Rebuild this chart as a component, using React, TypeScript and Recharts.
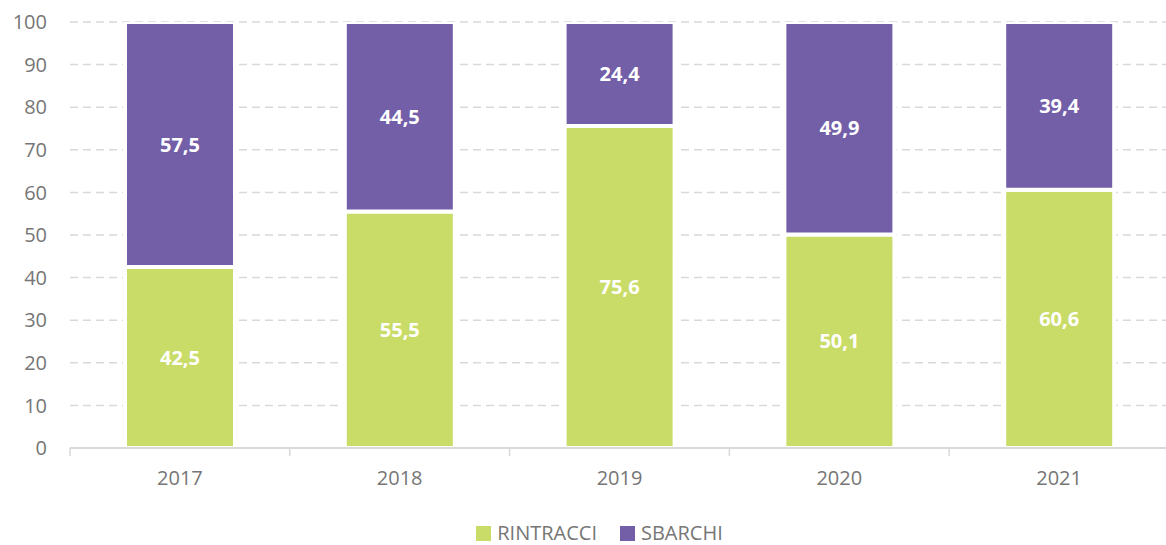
import React from 'react';
import { BarChart, Bar, XAxis, YAxis, CartesianGrid, LabelList, Legend, ReferenceLine } from 'recharts';

const years = ['2017', '2018', '2019', '2020', '2021'];
const rintracci = [42.5, 55.5, 75.6, 50.1, 60.6];
const sbarchi = [57.5, 44.5, 24.4, 49.9, 39.4];
const yTicks = [0, 10, 20, 30, 40, 50, 60, 70, 80, 90, 100];

const GREEN = '#C9DC67';
const PURPLE = '#735EA8';
const TEXT = '#767676';
const GRID = '#D9D9D9';

const data = years.map((y, i) => ({ year: y, RINTRACCI: rintracci[i], SBARCHI: sbarchi[i] }));

const fmt = (v: any) => String(v).replace('.', ',');

const LegendContent = () => (
  <div style={{ display: 'flex', justifyContent: 'center', paddingTop: 33, paddingLeft: 30, fontSize: 20, color: TEXT, fontFamily: 'Open Sans' }}>
    {[
      { name: 'RINTRACCI', color: GREEN },
      { name: 'SBARCHI', color: PURPLE },
    ].map((it, i) => (
      <div key={it.name} style={{ display: 'flex', alignItems: 'center', marginLeft: i ? 23 : 0 }}>
        <span style={{ display: 'inline-block', width: 15, height: 15, background: it.color, marginRight: 6 }} />
        <span style={{ lineHeight: '24px' }}>{it.name}</span>
      </div>
    ))}
  </div>
);

const TICK_DEPTH = -1.9;

export default function App() {
  return (
    <div style={{ position: 'absolute', left: 0, top: 0, width: 1166, height: 545, overflow: 'hidden', background: '#fff', fontFamily: 'Open Sans' }}>
      <BarChart width={1169} height={545} data={data} margin={{ top: 22, right: 0, bottom: 0, left: 0 }} barSize={110}>
        <CartesianGrid vertical={false} stroke={GRID} strokeDasharray="8 5" strokeWidth={1.5} />
        <XAxis
          dataKey="year"
          height={40}
          axisLine={{ stroke: GRID, strokeWidth: 2 }}
          tickLine={false}
          tickSize={0}
          tickMargin={23}
          tick={{ fill: TEXT, fontSize: 20 }}
        />
        <YAxis
          width={70}
          domain={[0, 100]}
          ticks={yTicks}
          axisLine={false}
          tickLine={false}
          tickSize={0}
          tickMargin={23}
          tick={{ fill: TEXT, fontSize: 20 }}
          allowDataOverflow
        />
        {years.map((y) => (
          <ReferenceLine
            key={'s' + y}
            segment={[{ x: y, y: 0 }, { x: y, y: TICK_DEPTH }]}
            position="start"
            ifOverflow="visible"
            stroke={GRID}
            strokeWidth={1.5}
          />
        ))}
        <ReferenceLine
          segment={[{ x: years[years.length - 1], y: 0 }, { x: years[years.length - 1], y: TICK_DEPTH }]}
          position="end"
          ifOverflow="visible"
          stroke={GRID}
          strokeWidth={1.5}
        />
        <Legend verticalAlign="bottom" height={57} content={<LegendContent />} />
        <Bar dataKey="RINTRACCI" stackId="a" fill={GREEN} stroke="#fff" strokeWidth={4} isAnimationActive={false}>
          <LabelList dataKey="RINTRACCI" position="center" fill="#fff" fontSize={20} fontWeight="bold" formatter={fmt} />
        </Bar>
        <Bar dataKey="SBARCHI" stackId="a" fill={PURPLE} stroke="#fff" strokeWidth={4} isAnimationActive={false}>
          <LabelList dataKey="SBARCHI" position="center" fill="#fff" fontSize={20} fontWeight="bold" formatter={fmt} />
        </Bar>
      </BarChart>
    </div>
  );
}
